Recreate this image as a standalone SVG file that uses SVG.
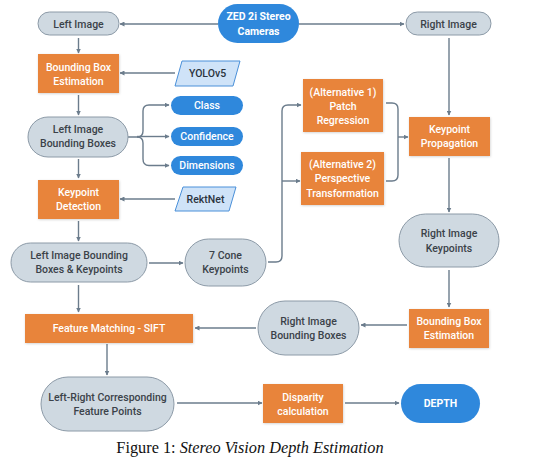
<svg xmlns="http://www.w3.org/2000/svg" width="533" height="464" viewBox="0 0 533 464">
<defs>
<marker id="ah" viewBox="0 0 10 10" refX="9" refY="5" markerWidth="5" markerHeight="5" orient="auto" markerUnits="userSpaceOnUse">
<path d="M0,0 L10,5 L0,10 z" fill="#6b7c8c"/>
</marker>
<filter id="sh" x="-10%" y="-10%" width="130%" height="130%">
<feDropShadow dx="0.5" dy="0.8" stdDeviation="0.8" flood-color="#000" flood-opacity="0.18"/>
</filter>
</defs>
<style>
text{font-family:Roboto,"Liberation Sans",sans-serif;font-size:10.5px;text-anchor:middle;font-weight:500}
.g rect{fill:#cfd9e1;stroke:#8c9aa7;stroke-width:1}
.g text{fill:#3b4249}
.o rect{fill:#e8843a;filter:url(#sh)}
.o text{fill:#fff}
.b rect{fill:#2f88dc}
.b text{fill:#fff}
.bold text{font-weight:700}
.p polygon{fill:#cfe3f8;stroke:#4a90d9;stroke-width:1}
.p text{fill:#2b3440}
.c path{fill:none;stroke:#6b7c8c;stroke-width:1.4;marker-end:url(#ah)}
.c path.n{marker-end:none}
.cap{font-family:"Liberation Serif",serif;font-size:16.3px;font-weight:400;fill:#111}
</style>
<rect width="533" height="464" fill="#fff"/>
<g class="c" id="connectors">
<path d="M218,24 H120"/>
<path d="M299,24 H404"/>
<path d="M78.5,38 V53"/>
<path d="M175,73 H120"/>
<path d="M78.5,95 V115"/>
<path d="M128,137 H137 Q143,137 143,131 V111 Q143,105 149,105 H169"/>
<path d="M137,137 Q143,137 143,143 V159 Q143,165.5 149,165.5 H169"/>
<path d="M137,136.5 H169"/>
<path d="M78.5,159 V178"/>
<path d="M175,199 H120"/>
<path d="M78.5,221 V241"/>
<path d="M149,263 H183"/>
<path d="M268,262 H276 Q282,262 282,256 V111 Q282,105 288,105 H301"/>
<path d="M282,181 H300"/>
<path class="n" d="M386,103 H392 Q398,103 398,109 V175 Q398,181 392,181 H386"/>
<path d="M398,137 H408"/>
<path d="M449,38 V115"/>
<path d="M449,158 V212"/>
<path d="M449,270 V307"/>
<path d="M407,325 H361"/>
<path d="M256,328 H195"/>
<path d="M78.5,285 V312"/>
<path d="M107,344 V375"/>
<path d="M177,403 H262"/>
<path d="M345,403 H399"/>
</g>
<g id="zed" class="b bold"><rect x="218" y="4" width="81" height="39" rx="19.5"/><text x="258.5" y="19.5">ZED 2i Stereo</text><text x="258.5" y="34.5">Cameras</text></g>
<g id="leftImage" class="g"><rect x="38" y="12" width="81" height="23" rx="11.5"/><text x="78.5" y="27.5">Left Image</text></g>
<g id="rightImage" class="g"><rect x="406" y="12" width="85" height="23" rx="11.5"/><text x="448.5" y="27.5">Right Image</text></g>
<g id="bbeLeft" class="o"><rect x="38" y="54" width="81" height="39"/><text x="78.5" y="70.5">Bounding Box</text><text x="78.5" y="84.5">Estimation</text></g>
<g id="yolo" class="p"><polygon points="182,61 240,61 233,86 175,86"/><text x="207.5" y="77">YOLOv5</text></g>
<g id="class" class="b"><rect x="171" y="96" width="72" height="19" rx="9.5"/><text x="207" y="109">Class</text></g>
<g id="confidence" class="b"><rect x="171" y="127" width="72" height="19" rx="9.5"/><text x="207" y="140">Confidence</text></g>
<g id="dimensions" class="b"><rect x="171" y="156" width="72" height="19" rx="9.5"/><text x="207" y="169">Dimensions</text></g>
<g id="leftBB" class="g"><rect x="28" y="117" width="100" height="40" rx="20"/><text x="78" y="132.5">Left Image</text><text x="78" y="146.5">Bounding Boxes</text></g>
<g id="keypointDetection" class="o"><rect x="38" y="180" width="81" height="39"/><text x="78.5" y="195.5">Keypoint</text><text x="78.5" y="210">Detection</text></g>
<g id="rektnet" class="p"><polygon points="183,187 236,187 229,211 175,211"/><text x="205.5" y="202.5">RektNet</text></g>
<g id="leftBBK" class="g"><rect x="11" y="243" width="136" height="39" rx="19.5"/><text x="79" y="258.5">Left Image Bounding</text><text x="79" y="273">Boxes &amp; Keypoints</text></g>
<g id="cone" class="g"><rect x="185" y="239" width="81" height="47" rx="23.5"/><text x="225.5" y="258.5">7 Cone</text><text x="225.5" y="272.5">Keypoints</text></g>
<g id="alt1" class="o"><rect x="303" y="79" width="80" height="53"/><text x="343" y="95.5">(Alternative 1)</text><text x="343" y="109.5">Patch</text><text x="343" y="123.5">Regression</text></g>
<g id="alt2" class="o"><rect x="301" y="152" width="83" height="53"/><text x="342.5" y="167.5">(Alternative 2)</text><text x="342.5" y="182">Perspective</text><text x="342.5" y="196.5">Transformation</text></g>
<g id="kpProp" class="o"><rect x="409" y="117" width="81" height="39"/><text x="449.5" y="132.5">Keypoint</text><text x="449.5" y="146.5">Propagation</text></g>
<g id="rightKP" class="g"><rect x="399" y="214" width="100" height="53" rx="26.5"/><text x="449" y="236.5">Right Image</text><text x="449" y="251.5">Keypoints</text></g>
<g id="bbeRight" class="o"><rect x="409" y="309" width="80" height="39"/><text x="449" y="324.5">Bounding Box</text><text x="449" y="339">Estimation</text></g>
<g id="rightBB" class="g"><rect x="258" y="301" width="101" height="54" rx="27"/><text x="308.5" y="324.5">Right Image</text><text x="308.5" y="339">Bounding Boxes</text></g>
<g id="featureMatching" class="o"><rect x="25" y="314" width="168" height="29"/><text x="109" y="331.5">Feature Matching - SIFT</text></g>
<g id="lrcfp" class="g"><rect x="41" y="377" width="133" height="54" rx="27"/><text x="107.5" y="400.5">Left-Right Corresponding</text><text x="107.5" y="414.5">Feature Points</text></g>
<g id="disparity" class="o"><rect x="263" y="384" width="80" height="39"/><text x="303" y="400.5">Disparity</text><text x="303" y="414.5">calculation</text></g>
<g id="depth" class="b bold"><rect x="401" y="384" width="79" height="39" rx="19.5"/><text x="440.5" y="407">DEPTH</text></g>
<text class="cap" x="250" y="453">Figure 1: <tspan font-style="italic">Stereo Vision Depth Estimation</tspan></text>
</svg>
